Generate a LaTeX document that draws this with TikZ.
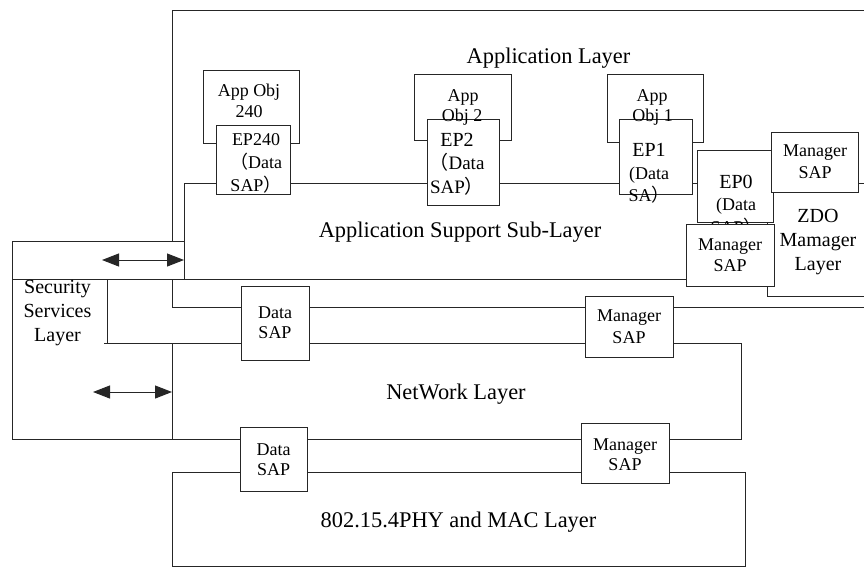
\documentclass[tikz,border=0pt]{standalone}
\usepackage{fontspec}
\setmainfont{Liberation Serif}
\newfontfamily\cjkfw{Noto Sans CJK SC}
\newcommand\fwlp{{\cjkfw （}}
\newcommand\fwrp{{\cjkfw ）}}
\usetikzlibrary{arrows.meta}
\begin{document}
\begin{tikzpicture}[x=1pt,y=-1pt,
 ln/.style={draw=black!85,line width=1pt},
 bx/.style={draw=black!85,line width=1pt,fill=white,inner sep=0pt},
 big/.style={font=\fontsize{22.4}{26}\selectfont,inner sep=0pt,anchor=base},
 mid/.style={font=\fontsize{20}{24}\selectfont,inner sep=0pt,anchor=base},
 sm/.style={font=\fontsize{18}{22}\selectfont,inner sep=0pt,anchor=base},
 dbl/.style={draw=black!85,line width=1pt,{Triangle[length=17pt,width=13pt]}-{Triangle[length=17pt,width=13pt]}}
]
\useasboundingbox (0,0) rectangle (864,568);
% ---------- layer outlines ----------
\draw[ln] (172,241) -- (172,10) -- (864,10);            % application layer
\draw[ln] (184,279) -- (184,183) -- (864,183);          % APS top / left
\draw[ln] (184,241) -- (12,241) -- (12,439);             % security box
\draw[ln] (12,279) -- (730,279);                         % APS bottom
\draw[ln] (107,279) -- (107,343);
\draw[ln] (172,279) -- (172,307) -- (864,307);           % NWK SAP line
\draw[ln] (104,343) -- (741,343) -- (741,439) -- (12,439); % network layer
\draw[ln] (172,343) -- (172,439);
\draw[ln] (172,566.5) -- (172,472) -- (745,472) -- (745,566.5) -- cycle; % PHY/MAC
\draw[ln] (767,170) -- (767,296) -- (864,296);           % ZDO layer
% ---------- arrows ----------
\coordinate (a1s) at (102,260); \coordinate (a1e) at (184,260);
\coordinate (a2s) at (93,392);  \coordinate (a2e) at (172,392);
\draw[dbl] (a1s) -- (a1e);
\draw[dbl] (a2s) -- (a2e);
% ---------- application objects ----------
\node[bx,minimum width=96pt,minimum height=73pt] (ao240) at (251,106.5) {};
\node[bx,minimum width=97pt,minimum height=66pt] (ao2) at (462.5,107) {};
\node[bx,minimum width=96pt,minimum height=68pt] (ao1) at (655,108) {};
\node[bx,minimum width=74pt,minimum height=69pt] (ep240) at (253,159.5) {};
\node[bx,minimum width=72pt,minimum height=86pt] (ep2) at (463,162) {};
\node[bx,minimum width=73pt,minimum height=75pt] (ep1) at (655.5,156.5) {};
\node[sm] (t240a) at (249,96) {App Obj};
\node[sm] (t240b) at (249,117) {240};
\node[sm] (t2a) at (463,101.7) {App};
\node[sm] (t2b) at (462,121) {Obj 2};
\node[sm] (t1a) at (652,101.7) {App};
\node[sm] (t1b) at (652.5,121) {Obj 1};
\node[sm] (e240a) at (256,145) {EP240};
\node[sm] (e240b) at (256,168.3) {\fwlp Data};
\node[sm] (e240c) at (256,191.7) {SAP\fwrp};
\node[mid] (e2a) at (457,146) {EP2};
\node[sm,font=\fontsize{19}{22}\selectfont] (e2b) at (457,169.5) {\fwlp Data};
\node[sm,font=\fontsize{19}{22}\selectfont] (e2c) at (457,193.3) {SAP\fwrp};
\node[mid] (e1a) at (649,156.7) {EP1};
\node[sm] (e1b) at (649,179.3) {(Data};
\node[sm] (e1c) at (649,201.5) {SA\fwrp};
% ---------- EP0 / ZDO ----------
\node[bx,minimum width=76pt,minimum height=72pt] (ep0) at (735,186) {};
\node[mid] (e0a) at (736,188.3) {EP0};
\node[sm] (e0b) at (736,210.7) {(Data};
\node[sm] (e0c) at (736,233) {SAP\fwrp};
\node[bx,minimum width=87pt,minimum height=60pt] (mz) at (814.5,162) {};
\node[sm] (mza) at (815,156.7) {Manager};
\node[sm] (mzb) at (815,178.3) {SAP};
\node[bx,minimum width=88pt,minimum height=62pt] (ma) at (730,255) {};
\node[sm] (maa) at (730,250.7) {Manager};
\node[sm] (mab) at (730,271.7) {SAP};
\node[mid] (za) at (818,222.7) {ZDO};
\node[mid] (zb) at (818,246.7) {Mamager};
\node[mid] (zc) at (818,270) {Layer};
% ---------- network / PHY SAPs ----------
\node[bx,minimum width=68pt,minimum height=74pt] (nds) at (275,323) {};
\node[sm] (ndsa) at (275,318.3) {Data};
\node[sm] (ndsb) at (275,338.3) {SAP};
\node[bx,minimum width=88pt,minimum height=61pt] (nms) at (629,326.5) {};
\node[sm] (nmsa) at (629,321.7) {Manager};
\node[sm] (nmsb) at (629,343.3) {SAP};
\node[bx,minimum width=67pt,minimum height=64pt] (pds) at (273.5,459) {};
\node[sm] (pdsa) at (273.7,455) {Data};
\node[sm] (pdsb) at (273.7,475) {SAP};
\node[bx,minimum width=88pt,minimum height=60pt] (pms) at (625,453) {};
\node[sm] (pmsa) at (625,450) {Manager};
\node[sm] (pmsb) at (625,470) {SAP};
% ---------- security ----------
\node[mid] (sa) at (57.5,293) {Security};
\node[mid] (sb) at (57.5,317) {Services};
\node[mid] (sc) at (57.5,341) {Layer};
% ---------- layer labels ----------
\node[big] (lal) at (548.5,63) {Application Layer};
\node[big] (laps) at (460,237) {Application Support Sub-Layer};
\node[big] (lnwk) at (456,399) {NetWork Layer};
\node[big] (lphy) at (458.5,527) {802.15.4PHY and MAC Layer};
\end{tikzpicture}
\end{document}
